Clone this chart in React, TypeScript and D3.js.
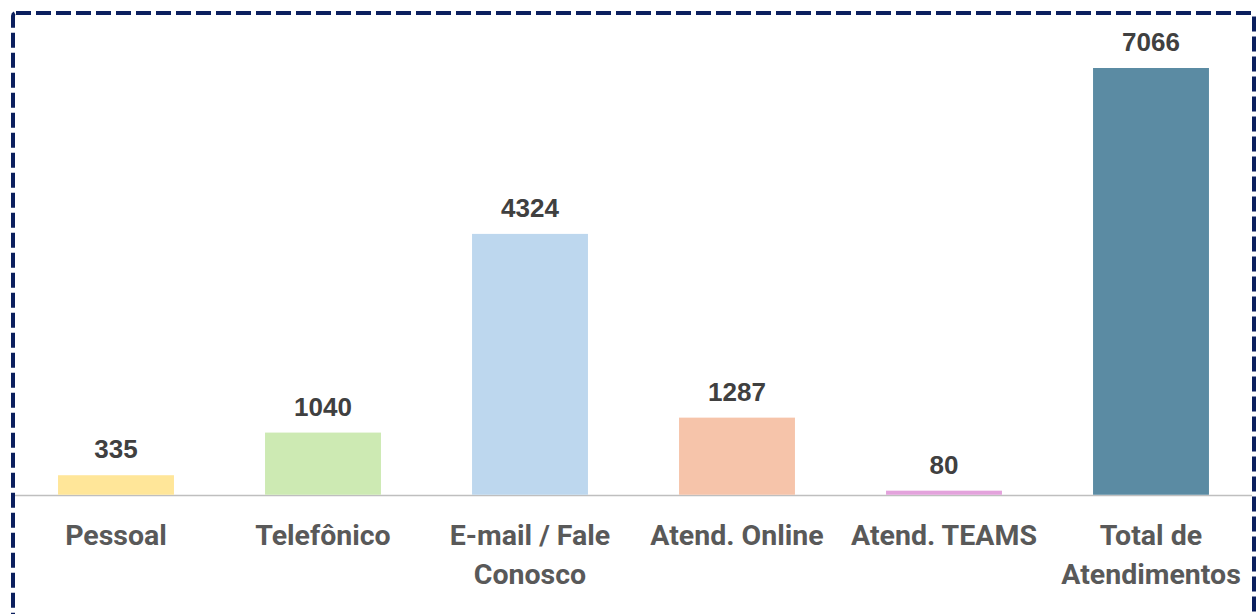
import React from "react";
import * as d3 from "d3";

const categories: string[][] = [
  ["Pessoal"],
  ["Telefônico"],
  ["E-mail / Fale", "Conosco"],
  ["Atend. Online"],
  ["Atend. TEAMS"],
  ["Total de", "Atendimentos"],
];
const values: number[] = [335, 1040, 4324, 1287, 80, 7066];
const colors: string[] = ["#FFE699", "#CDEAB3", "#BDD7EE", "#F6C4AA", "#E3A2DC", "#5B8BA3"];

const W = 1257;
const H = 614;

export default function App() {
  const keys = categories.map((c) => c.join(" "));
  const x = d3.scaleBand<string>().domain(keys).range([12.5, 1254.5]).paddingInner(0.44).paddingOuter(0.22);
  const y = d3.scaleLinear().domain([0, d3.max(values) as number]).range([495.5, 68]);
  const axisY = y(0);

  return (
    <div style={{ position: "absolute", left: 0, top: 0, width: W, height: H, background: "#ffffff" }}>
      <svg width={W} height={H} style={{ display: "block" }}>
        <rect x={0} y={0} width={W} height={H} fill="#ffffff" />
        <line x1={15} x2={1252} y1={axisY} y2={axisY} stroke="#BFBFBF" strokeWidth={1.5} />
        {values.map((v, i) => (
          <rect
            key={"b" + i}
            x={x(keys[i])}
            y={y(v)}
            width={x.bandwidth()}
            height={axisY - y(v) - 0.75}
            fill={colors[i]}
          />
        ))}
        {values.map((v, i) => (
          <text
            key={"v" + i}
            x={(x(keys[i]) as number) + x.bandwidth() / 2}
            y={y(v) - 17}
            textAnchor="middle"
            fontFamily="'Liberation Sans', Arial, sans-serif"
            fontWeight={700}
            fontSize={26}
            fill="#404040"
          >
            {v}
          </text>
        ))}
        {categories.map((lines, i) => (
          <text
            key={"c" + i}
            x={(x(keys[i]) as number) + x.bandwidth() / 2}
            y={545}
            textAnchor="middle"
            fontFamily="Roboto, 'Noto Sans', sans-serif"
            fontWeight={700}
            fontSize={28.5}
            fill="#595959"
          >
            {lines.map((l, j) => (
              <tspan key={j} x={(x(keys[i]) as number) + x.bandwidth() / 2} dy={j === 0 ? 0 : 39}>
                {l}
              </tspan>
            ))}
          </text>
        ))}
        <rect
          x={13}
          y={13}
          width={1241}
          height={640}
          rx={3}
          fill="none"
          stroke="#0B1F5E"
          strokeWidth={4}
          strokeDasharray="15 5"
        />
      </svg>
    </div>
  );
}
